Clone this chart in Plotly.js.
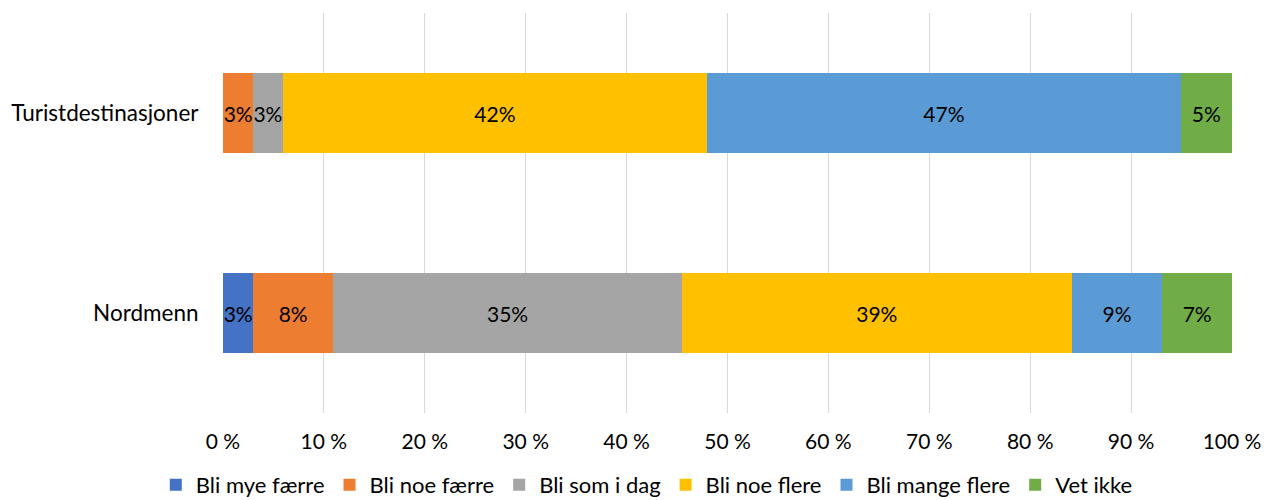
<!DOCTYPE html>
<html><head><meta charset="utf-8">
<script src="https://cdn.plot.ly/plotly-3.0.1.min.js"></script>
<style>html,body{margin:0;padding:0;background:#fff}#chart{width:1266px;height:500px}</style>
</head><body><div id="chart"></div>
<script>
const categories = ["Nordmenn", "Turistdestinasjoner"];
const seriesNames = ["Bli mye færre", "Bli noe færre", "Bli som i dag", "Bli noe flere", "Bli mange flere", "Vet ikke"];
const seriesColors = ["#4472C4", "#ED7D31", "#A5A5A5", "#FFC000", "#5B9BD5", "#70AD47"];
const blimyeFaerre = [3.0, 0];
const bliNoeFaerre = [7.9, 3.0];
const bliSomIDag = [34.6, 2.9];
const bliNoeFlere = [38.6, 42.1];
const bliMangeFlere = [9.0, 46.9];
const vetIkke = [6.9, 5.1];
const xTickVals = [0,10,20,30,40,50,60,70,80,90,100];
const xTickText = ["0 %","10 %","20 %","30 %","40 %","50 %","60 %","70 %","80 %","90 %","100 %"];

const allSeries = [blimyeFaerre, bliNoeFaerre, bliSomIDag, bliNoeFlere, bliMangeFlere, vetIkke];
const FONT = "Lato, 'Open Sans', sans-serif";
const traces = allSeries.map((vals, i) => ({
  type: 'bar', orientation: 'h', name: seriesNames[i],
  y: categories, x: vals,
  marker: {color: seriesColors[i], line: {width: 0}},
  text: vals.map(v => v > 0 ? Math.round(v) + '%' : ''),
  textposition: 'inside', insidetextanchor: 'middle', textangle: 0,
  constraintext: 'none', cliponaxis: false,
  textfont: {family: FONT, size: 21, color: '#000'},
  hoverinfo: 'name+x'
}));
const layout = {
  barmode: 'stack', bargap: 0.6,
  width: 1266, height: 500,
  margin: {l: 223, r: 34, t: 13, b: 87, autoexpand: false},
  paper_bgcolor: '#fff', plot_bgcolor: '#fff',
  font: {family: FONT, size: 21, color: '#000'},
  xaxis: {range: [0, 100], tickmode: 'array', tickvals: xTickVals, ticktext: xTickText, showgrid: true,
    gridcolor: '#d9d9d9', gridwidth: 1, zeroline: false, showline: false,
    ticks: 'outside', ticklen: 10, tickcolor: 'rgba(0,0,0,0)', fixedrange: true, automargin: false},
  yaxis: {range: [-0.5, 1.5], showgrid: false, zeroline: false, showline: false,
    tickfont: {family: FONT, size: 22.5},
    ticks: 'outside', ticklen: 19, tickcolor: 'rgba(0,0,0,0)', automargin: false},
  showlegend: true,
  legend: {orientation: 'h', x: 0.42, xanchor: 'center', yref: 'container', y: 0.03, yanchor: 'middle',
    traceorder: 'normal', font: {family: FONT, size: 22}},
};
Plotly.newPlot('chart', traces, layout, {displayModeBar: false, staticPlot: true});
</script></body></html>
